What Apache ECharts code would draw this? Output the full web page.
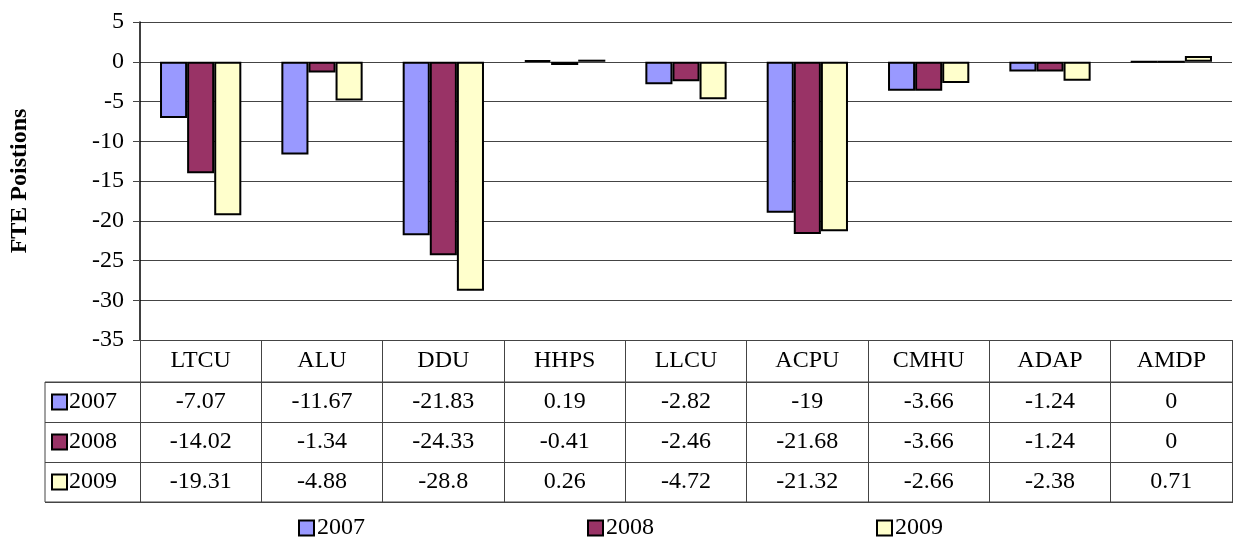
<!DOCTYPE html>
<html><head><meta charset="utf-8">
<script src="https://cdn.jsdelivr.net/npm/echarts@6/dist/echarts.min.js"></script>
<style>html,body{margin:0;padding:0;background:#fff}#c{width:1233px;height:540px}</style>
</head><body><div id="c"></div>
<script>
const categories = ['LTCU','ALU','DDU','HHPS','LLCU','ACPU','CMHU','ADAP','AMDP'];
const years = ['2007','2008','2009'];
const s2007 = [-7.07,-11.67,-21.83,0.19,-2.82,-19,-3.66,-1.24,0];
const s2008 = [-14.02,-1.34,-24.33,-0.41,-2.46,-21.68,-3.66,-1.24,0];
const s2009 = [-19.31,-4.88,-28.8,0.26,-4.72,-21.32,-2.66,-2.38,0.71];
const colors = ['#9999FF','#993366','#FFFFCC'];
const FONT = '"Liberation Serif","Times New Roman",serif';
const FS = 24;
const seriesData = [s2007,s2008,s2009];

const rowRich = { t:{fontSize:FS,fontFamily:FONT,color:'#000',padding:[0,0,0,3]} };
colors.forEach((c,i)=>{ rowRich['b'+i] = {width:13,height:13,backgroundColor:c,borderColor:'#000',borderWidth:2}; });

const chart = echarts.init(document.getElementById('c'));
chart.setOption({
  animation:false,
  textStyle:{fontFamily:FONT},
  grid:[
    {left:135,right:1,top:22,bottom:200,containLabel:false},
    {left:45,right:0,top:382,bottom:38,show:true,borderColor:'#444',borderWidth:1,backgroundColor:'transparent'}
  ],
  legend:{
    data:years,left:293,top:512,padding:[4,5,4,5],icon:'rect',itemWidth:15,itemHeight:15,itemGap:222,
    textStyle:{fontSize:FS,fontFamily:FONT,color:'#000',padding:[0,0,0,-2]}
  },
  xAxis:[
    {type:'category',gridIndex:0,data:categories,
     axisLine:{onZero:false,lineStyle:{color:'#444',width:1}},
     axisTick:{show:true,length:162,lineStyle:{color:'#444'}},
     axisLabel:{interval:0,margin:0,color:'#000',
       formatter:(v,i)=>`{h|${v}}\n{v|${s2007[i]}}\n{v|${s2008[i]}}\n{v|${s2009[i]}}`,
       rich:{h:{fontSize:FS,lineHeight:42,fontFamily:FONT,color:'#000'},v:{fontSize:FS,lineHeight:40,fontFamily:FONT,color:'#000'}}
     }},
    {type:'value',gridIndex:1,show:false}
  ],
  yAxis:[
    {type:'value',gridIndex:0,min:-35,max:5,interval:5,
     name:'FTE Poistions',nameLocation:'middle',nameGap:108,
     nameTextStyle:{fontSize:24,fontWeight:'bold',fontFamily:FONT,color:'#000'},
     axisLine:{show:true,lineStyle:{color:'#000',width:1.5}},
     axisTick:{show:true,length:7,lineStyle:{color:'#444'}},
     axisLabel:{fontSize:FS,fontFamily:FONT,color:'#000',margin:16},
     splitLine:{lineStyle:{color:'#444',width:1}}},
    {type:'category',gridIndex:1,data:years,inverse:true,
     axisLine:{show:false},axisTick:{show:false},
     splitLine:{show:true,lineStyle:{color:'#444',width:1}},
     axisLabel:{inside:true,margin:8,
       formatter:(v,i)=>`{b${i}|}{t|${v}}`,rich:rowRich}}
  ],
  series: years.map((y,i)=>({
    name:y,type:'bar',xAxisIndex:0,yAxisIndex:0,data:seriesData[i],
    barGap:'0%',barCategoryGap:'33%',
    itemStyle:{color:colors[i],borderColor:'#000',borderWidth:2}
  }))
});
</script></body></html>
